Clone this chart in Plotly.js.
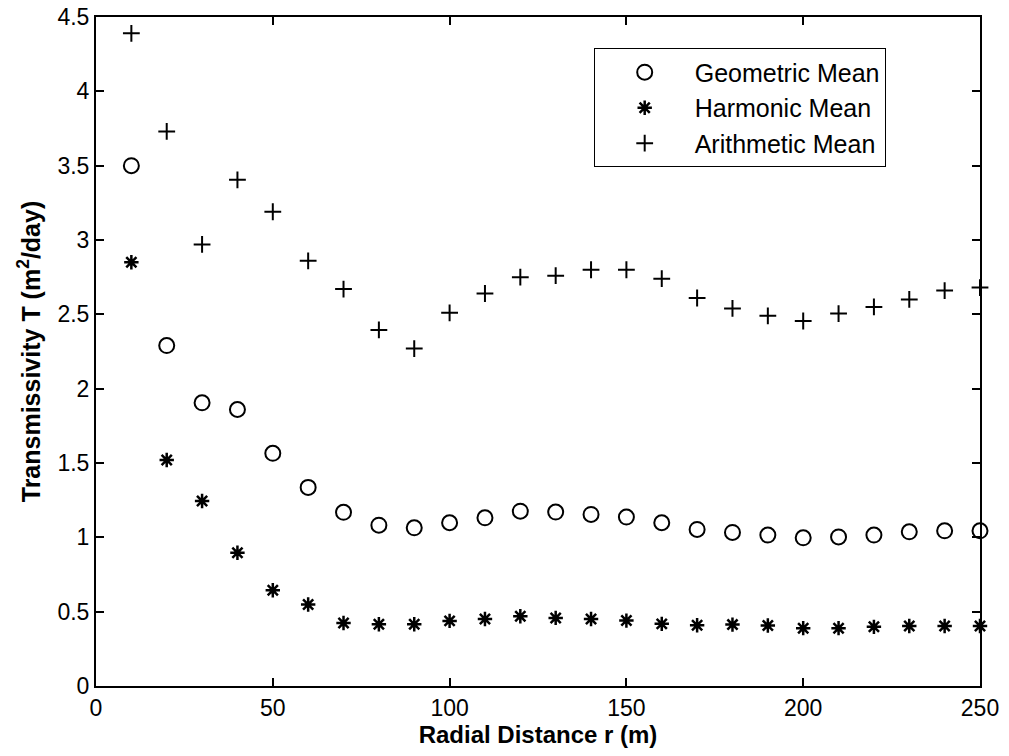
<!DOCTYPE html>
<html>
<head>
<meta charset="utf-8">
<script src="https://cdn.plot.ly/plotly-3.0.1.min.js"></script>
<style>html,body{margin:0;padding:0;background:#fff;}#chart{width:1009px;height:756px;}</style>
</head>
<body>
<div id="chart"></div>
<script>
var radius = [10,20,30,40,50,60,70,80,90,100,110,120,130,140,150,160,170,180,190,200,210,220,230,240,250];
var geometricMean = [3.50,2.29,1.905,1.86,1.565,1.336,1.168,1.082,1.064,1.098,1.131,1.176,1.17,1.154,1.136,1.098,1.053,1.033,1.015,0.997,1.003,1.015,1.037,1.044,1.044];
var harmonicMean = [2.85,1.52,1.244,0.896,0.644,0.548,0.424,0.415,0.415,0.438,0.451,0.469,0.458,0.451,0.44,0.418,0.409,0.413,0.407,0.389,0.389,0.398,0.404,0.404,0.404];
var arithmeticMean = [4.39,3.73,2.97,3.405,3.19,2.86,2.67,2.395,2.27,2.51,2.64,2.75,2.76,2.80,2.80,2.74,2.61,2.54,2.49,2.455,2.505,2.55,2.60,2.66,2.68];
var xTicks = [0,50,100,150,200,250];
var yTicks = [0,0.5,1,1.5,2,2.5,3,3.5,4,4.5];
var yTickText = ['0','0.5','1','1.5','2','2.5','3','3.5','4','4.5'];

var FONT = 'Arial, "Liberation Sans", Helvetica, sans-serif';

var traces = [
  {x: radius, y: geometricMean, name: 'Geometric Mean', mode: 'markers', type: 'scatter', legendgroup: 'g',
   marker: {symbol: 'circle-open', size: 15, color: '#000', line: {width: 2, color: '#000'}}, cliponaxis: false},
  {x: radius, y: harmonicMean, name: 'Harmonic Mean', mode: 'markers', type: 'scatter', legendgroup: 'h',
   marker: {symbol: 'asterisk-open', size: 12, color: '#000', line: {width: 2.5, color: '#000'}}, cliponaxis: false},
  {x: radius, y: arithmeticMean, name: 'Arithmetic Mean', mode: 'markers', type: 'scatter', legendgroup: 'a',
   marker: {symbol: 'cross-thin-open', size: 12, color: '#000', line: {width: 2, color: '#000'}}, cliponaxis: false}
];

var layout = {
  width: 1009, height: 756,
  margin: {l: 96, r: 29, t: 17, b: 70},
  paper_bgcolor: '#fff', plot_bgcolor: '#fff',
  font: {family: FONT, size: 23, color: '#000'},
  showlegend: true,
  legend: {
    x: 0.563, y: 0.953, xanchor: 'left', yanchor: 'top',
    bgcolor: '#fff', bordercolor: '#000', borderwidth: 1,
    font: {family: FONT, size: 25, color: '#000'},
    tracegroupgap: 0, itemwidth: 90
  },
  xaxis: {
    range: [0, 250], tickvals: xTicks, ticktext: xTicks.map(String),
    ticks: 'inside', ticklen: 8, tickwidth: 2, tickcolor: '#000',
    showline: true, linewidth: 2, linecolor: '#000', mirror: 'ticks',
    showgrid: false, zeroline: false,
    tickfont: {family: FONT, size: 23, color: '#000'},
    title: {text: '<b>Radial Distance r (m)</b>', font: {family: FONT, size: 24, color: '#000'}, standoff: 4}
  },
  yaxis: {
    range: [0, 4.5], tickvals: yTicks, ticktext: yTickText,
    ticks: 'inside', ticklen: 8, tickwidth: 2, tickcolor: '#000',
    showline: true, linewidth: 2, linecolor: '#000', mirror: 'ticks',
    showgrid: false, zeroline: false,
    tickfont: {family: FONT, size: 23, color: '#000'},
    title: {text: '<b>Transmissivity T (m<sup>2</sup>/day)</b>', font: {family: FONT, size: 25, color: '#000'}, standoff: 10}
  }
};

Plotly.newPlot('chart', traces, layout, {displayModeBar: false, staticPlot: true});
</script>
</body>
</html>
